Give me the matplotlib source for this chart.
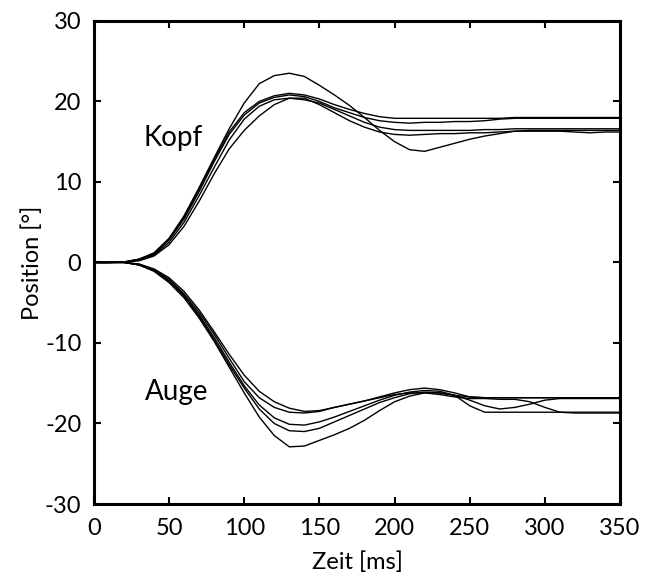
import numpy as np
import matplotlib
matplotlib.use("Agg")
import matplotlib.pyplot as plt

plt.rcParams['font.family'] = ['Lato', 'DejaVu Sans']
plt.rcParams['axes.unicode_minus'] = False

# time grid (ms), values every 10 ms
t_ms = list(range(0, 351, 10))

# head (Kopf) traces
kopf_a = [0, 0, 0.05, 0.4, 1.1, 2.9, 5.6, 9.1, 12.8, 16.2,
          18.6, 20.0, 20.7, 21.0, 20.8, 20.3, 19.6, 19.0, 18.5, 18.1,
          17.9, 17.9, 17.9, 17.9, 17.9, 17.9, 17.9, 17.9, 18.0, 18.0,
          18.0, 18.0, 18.0, 18.0, 18.0, 18.0]
kopf_b = [0, 0, 0.05, 0.4, 1.0, 2.8, 5.4, 8.8, 12.5, 15.9,
          18.3, 19.8, 20.5, 20.8, 20.6, 20.0, 19.2, 18.6, 18.0, 17.6,
          17.4, 17.3, 17.4, 17.4, 17.5, 17.5, 17.6, 17.8, 17.9, 17.9,
          17.9, 17.9, 17.9, 17.9, 17.9, 17.9]
kopf_c = [0, 0, 0.05, 0.3, 0.9, 2.5, 5.0, 8.3, 11.8, 15.2,
          17.8, 19.4, 20.2, 20.4, 20.2, 19.8, 19.0, 18.2, 17.4, 16.8,
          16.5, 16.4, 16.4, 16.4, 16.4, 16.4, 16.5, 16.5, 16.6, 16.6,
          16.6, 16.6, 16.6, 16.6, 16.6, 16.6]
kopf_d = [0, 0, 0.03, 0.2, 0.8, 2.2, 4.5, 7.6, 11.0, 14.1,
          16.4, 18.2, 19.6, 20.4, 20.4, 19.6, 18.6, 17.6, 16.8, 16.2,
          15.9, 15.8, 15.9, 16.0, 16.0, 16.1, 16.1, 16.2, 16.3, 16.3,
          16.3, 16.3, 16.2, 16.1, 16.2, 16.2]
kopf_e = [0, 0, 0.05, 0.4, 1.2, 3.0, 5.8, 9.3, 13.0, 16.6,
          19.8, 22.2, 23.2, 23.5, 23.1, 22.0, 20.8, 19.5, 18.0, 16.4,
          15.0, 14.0, 13.8, 14.3, 14.8, 15.3, 15.7, 16.0, 16.3, 16.4,
          16.4, 16.4, 16.4, 16.4, 16.4, 16.4]

# eye (Auge) traces
auge_a = [0, 0, 0, -0.3, -1.1, -2.5, -4.4, -6.9, -9.8, -13.0,
          -16.2, -19.2, -21.5, -22.9, -22.8, -22.1, -21.4, -20.6, -19.6, -18.4,
          -17.3, -16.6, -16.2, -16.2, -16.5, -16.7, -16.8, -16.8, -16.8, -16.8,
          -16.8, -16.8, -16.8, -16.8, -16.8, -16.8]
auge_b = [0, 0, 0, -0.3, -1.0, -2.3, -4.2, -6.7, -9.6, -12.7,
          -15.6, -18.2, -20.0, -20.9, -21.0, -20.6, -19.8, -19.0, -18.2, -17.4,
          -16.8, -16.3, -16.1, -16.2, -16.5, -17.1, -17.8, -18.2, -18.0, -17.6,
          -17.1, -16.9, -16.9, -16.9, -16.9, -16.9]
auge_c = [0, 0, 0, -0.3, -1.0, -2.3, -4.1, -6.5, -9.3, -12.4,
          -15.3, -17.7, -19.3, -20.1, -20.2, -19.8, -19.2, -18.5, -17.8, -17.1,
          -16.5, -16.1, -15.9, -16.0, -16.5, -17.8, -18.6, -18.6, -18.6, -18.6,
          -18.6, -18.6, -18.6, -18.6, -18.6, -18.6]
auge_d = [0, 0, 0, -0.2, -0.9, -2.1, -3.9, -6.2, -8.9, -11.9,
          -14.8, -16.8, -18.0, -18.6, -18.7, -18.5, -18.0, -17.6, -17.2, -16.7,
          -16.2, -15.8, -15.6, -15.8, -16.2, -16.7, -16.8, -16.8, -16.8, -16.8,
          -16.8, -16.8, -16.8, -16.8, -16.8, -16.8]
auge_e = [0, 0, 0, -0.2, -0.8, -1.9, -3.6, -5.9, -8.6, -11.4,
          -14.0, -16.0, -17.3, -18.1, -18.5, -18.4, -18.0, -17.6, -17.2, -16.8,
          -16.4, -16.2, -16.2, -16.4, -16.7, -16.9, -16.9, -17.0, -17.0, -17.3,
          -18.0, -18.6, -18.7, -18.7, -18.7, -18.7]

kopf = [kopf_a, kopf_b, kopf_c, kopf_d, kopf_e]
auge = [auge_a, auge_b, auge_c, auge_d, auge_e]

fig = plt.figure(figsize=(6.52, 5.8), dpi=100)
ax = fig.add_axes([0.144, 0.131, 0.807, 0.833])

for trace in kopf + auge:
    ax.plot(t_ms, trace, color='black', lw=1.0)

ax.text(53, 15.5, 'Kopf', fontsize=20, ha='center', va='center')
ax.text(55, -16.1, 'Auge', fontsize=20, ha='center', va='center')

ax.set_xlim(0, 350)
ax.set_ylim(-30, 30)
ax.set_xticks(np.arange(0, 351, 50))
ax.set_yticks(np.arange(-30, 31, 10))
ax.tick_params(direction='in', length=5, width=1.5, labelsize=17,
               top=True, right=True)
ax.tick_params(axis='x', pad=10)
ax.tick_params(axis='y', pad=9)
for side in ax.spines:
    ax.spines[side].set_linewidth(2.2)

ax.set_xlabel('Zeit [ms]', fontsize=17, labelpad=9)
ax.set_ylabel('Position [°]', fontsize=17, labelpad=1)

fig.savefig('out.png', dpi=100)
